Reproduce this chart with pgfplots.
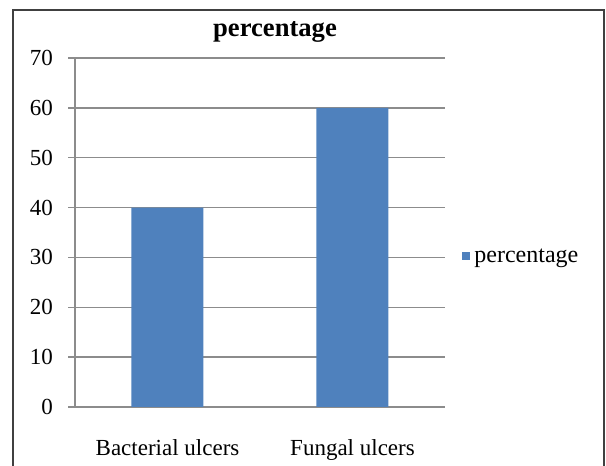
\documentclass[border=0pt]{standalone}
\usepackage{pgfplots}
\pgfplotsset{compat=1.18}
\usepackage{fontspec}
\setmainfont{Liberation Serif}
\definecolor{barblue}{HTML}{4F81BD}
\definecolor{gridgray}{HTML}{8C8C8C}
\definecolor{framegray}{HTML}{404040}
\begin{document}
\begin{tikzpicture}
\useasboundingbox (0,0) rectangle (303pt,233pt);
\begin{scope}
\clip (0,0) rectangle (303pt,233pt);
\draw[framegray, line width=1.1pt] (6.5pt,-10pt) rectangle (302pt,228pt);
\end{scope}
\node[font=\fontsize{13.3}{15}\selectfont\bfseries] at (137.5pt,217pt) {percentage};
\begin{axis}[
  at={(37.5pt,29.5pt)}, anchor=south west,
  scale only axis,
  width=185pt, height=174.5pt,
  xmin=-0.5, xmax=1.5,
  ymin=0, ymax=70,
  ytick={0,10,...,70},
  xtick={0,1},
  xticklabels={Bacterial ulcers, Fungal ulcers},
  extra x ticks={-0.5,0.5,1.5},
  extra x tick labels={},
  extra x tick style={major tick length=4pt, tick style={gridgray, line width=0.75pt}},
  axis x line*=bottom, axis y line*=left,
  axis line style={gridgray, line width=0.75pt, -},
  tick align=outside,
  x tick style={draw=none},
  y tick style={gridgray, line width=0.75pt},
  major tick length=3.5pt,
  ymajorgrids,
  grid style={gridgray, line width=0.75pt},
  tick label style={font=\fontsize{11.5}{13}\selectfont},
  /pgf/number format/assume math mode=true,
  xticklabel style={yshift=-9pt},
  yticklabel style={xshift=-4pt},
  ybar, bar width=36pt,
  legend style={at={(1,0.43)}, anchor=west, xshift=7.5pt, draw=none,
    font=\fontsize{12}{14}\selectfont, inner sep=1pt},
  legend image code/.code={\fill[barblue] (0pt,-1.5pt) rectangle (4pt,2.5pt);},
]
\addplot[fill=barblue, draw=none] coordinates {(0,40) (1,60)};
\addlegendentry{percentage}
\end{axis}
\end{tikzpicture}
\end{document}
